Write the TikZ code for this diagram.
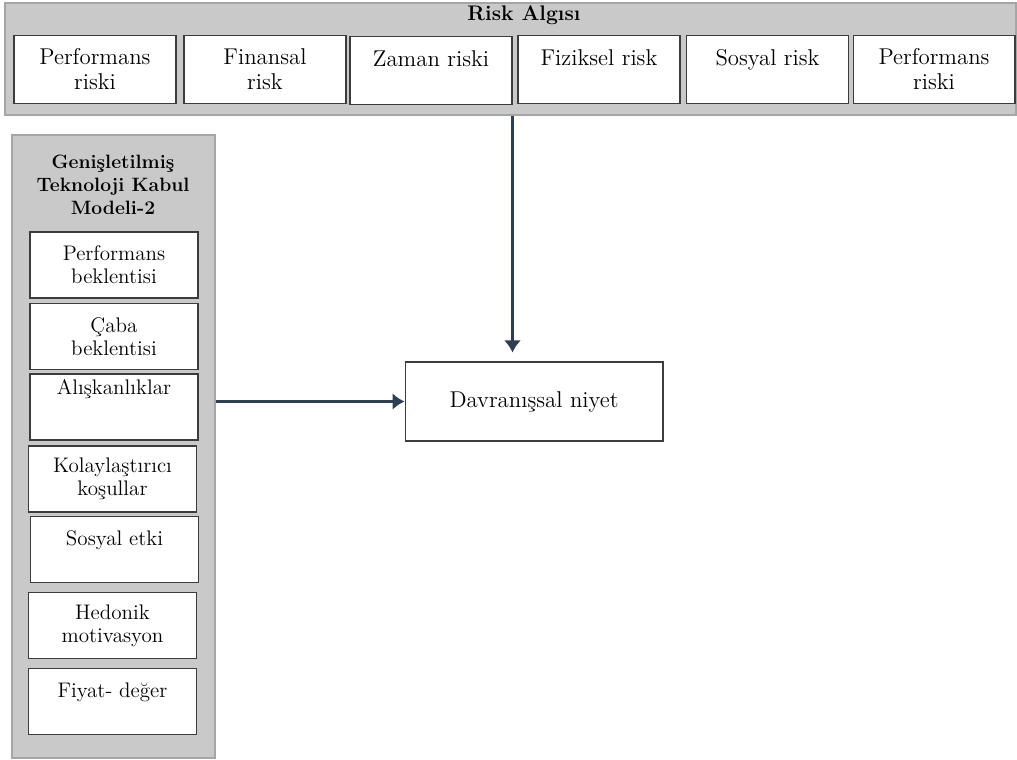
\documentclass[tikz,border=0pt]{standalone}
\usepackage{tikz}
\usetikzlibrary{arrows.meta,calc}
\definecolor{GriPanel}{RGB}{201,201,201}
\definecolor{GriCerceve}{RGB}{165,165,165}
\definecolor{KoyuGri}{RGB}{60,60,60}
\definecolor{LacivertOk}{RGB}{47,62,82}
\tikzset{
  panel/.style={draw=GriCerceve,fill=GriPanel,line width=0.8pt,inner sep=0pt},
  baslik/.style={font=\fontsize{12}{14.4}\selectfont\bfseries,align=center},
  riskkutu/.style={draw=KoyuGri,fill=white,line width=0.6pt,minimum width=3.24cm,
    minimum height=1.36cm,align=center,inner sep=2pt,font=\fontsize{13}{14.2}\selectfont},
  modelkutu/.style={riskkutu,minimum width=3.36cm,minimum height=1.32cm,
    font=\fontsize{12}{13}\selectfont},
  teksatir/.style={text height=8pt,text depth=#1},
  teksatir/.default=12pt,
  ok/.style={-{Latex[length=0.24cm,width=0.34cm]},line width=1.8pt,LacivertOk}
}
\begin{document}
\begin{tikzpicture}[x=0.02cm,y=-0.02cm]
  \useasboundingbox (0,0) rectangle (1017,760);
  % risk algisi paneli
  \node[panel,minimum width=20.22cm,minimum height=2.24cm] (risk) at (510.5,59) {};
  \node[baslik] (risktitle) at (524,15) {Risk Algısı};
  \node[riskkutu] (perf) at (95,69.5) {Performans\\riski};
  \node[riskkutu] (finans) at (265,69.5) {Finansal\\risk};
  \node[riskkutu,teksatir] (zaman) at (431,70.5) {Zaman riski};
  \node[riskkutu,teksatir] (fizik) at (599,69.5) {Fiziksel risk};
  \node[riskkutu,teksatir] (sosyal) at (767.5,69.5) {Sosyal risk};
  \node[riskkutu] (perfb) at (934,69.5) {Performans\\riski};
  % model paneli
  \node[panel,minimum width=4.06cm,minimum height=12.46cm] (model) at (113.5,446.5) {};
  \node[baslik,font=\fontsize{11}{13}\selectfont\bfseries] (modeltitle) at (113,185)
    {Genişletilmiş\\Teknoloji Kabul\\Modeli-2};
  \node[modelkutu] (beklenti) at (114,265) {Performans\\beklentisi};
  \node[modelkutu] (caba) at (114,336.5) {Çaba\\beklentisi};
  \node[modelkutu,teksatir=22pt] (aliskan) at (114,407) {Alışkanlıklar};
  \node[modelkutu] (kolay) at (112.5,479) {Kolaylaştırıcı\\koşullar};
  \node[modelkutu,teksatir] (etki) at (114.5,549.5) {Sosyal etki};
  \node[modelkutu] (hedon) at (112.5,625.5) {Hedonik\\motivasyon};
  \node[modelkutu,teksatir] (fiyat) at (112.5,701.5) {Fiyat- değer};
  % sonuc
  \node[riskkutu,minimum width=5.16cm,minimum height=1.58cm] (niyet) at (534,401.5) {Davranışsal niyet};
  \draw[ok,shorten >=0.18cm] (zaman.east |- risk.south) -- (zaman.east |- niyet.north);
  \draw[ok] (model.east |- niyet.west) -- (niyet.west);
\end{tikzpicture}
\end{document}
